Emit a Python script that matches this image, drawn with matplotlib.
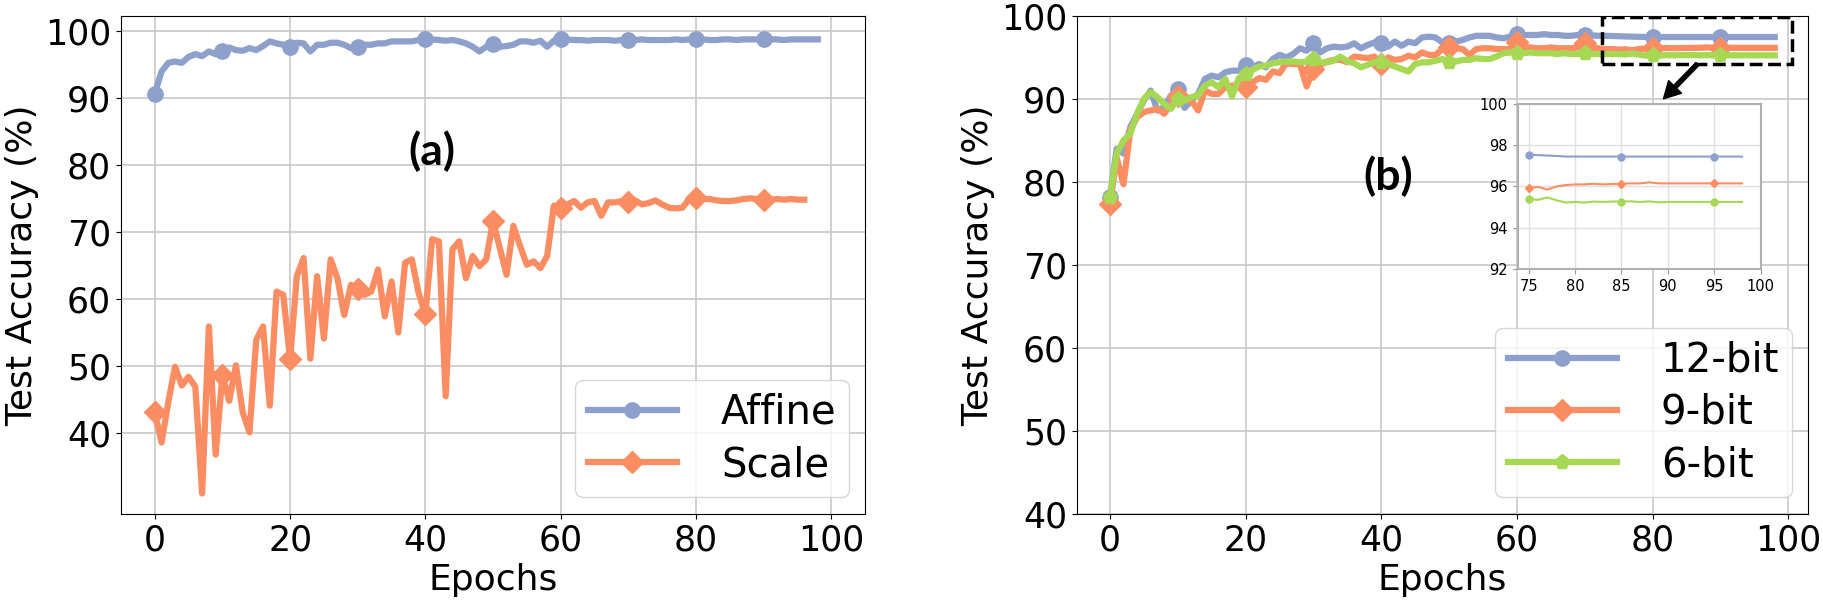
import numpy as np
import matplotlib
matplotlib.use("Agg")
import matplotlib.pyplot as plt
from matplotlib.patches import Rectangle

# ---- data ----
affine = [90.6, 93.9, 95.2, 95.4, 95.2, 96.1, 96.5, 96.2, 96.9, 96.5,
          96.9, 97.5, 97.1, 97.0, 97.4, 97.1, 97.7, 98.4, 98.1, 97.9,
          97.6, 98.2, 98.1, 96.9, 97.9, 97.9, 98.2, 98.2, 97.9, 97.4,
          97.6, 97.9, 97.9, 98.1, 98.1, 98.4, 98.4, 98.4, 98.4, 98.6,
          98.7, 98.7, 98.6, 98.5, 98.6, 98.4, 98.1, 97.6, 96.9, 97.6,
          98.0, 97.6, 97.7, 97.9, 98.4, 98.4, 98.2, 98.5, 97.6, 98.5,
          98.7, 98.7, 98.6, 98.6, 98.5, 98.6, 98.6, 98.6, 98.5, 98.6,
          98.6, 98.6, 98.7, 98.6, 98.6, 98.6, 98.6, 98.7, 98.6, 98.7,
          98.7, 98.7, 98.6, 98.6, 98.7, 98.7, 98.6, 98.7, 98.7, 98.7,
          98.7, 98.7, 98.7, 98.6, 98.7, 98.7, 98.7, 98.7, 98.7]

scale = [43.1, 38.6, 44.6, 49.9, 47.1, 48.4, 46.9, 31.0, 55.9, 36.8,
         48.6, 44.8, 50.1, 43.1, 40.1, 53.9, 55.9, 44.1, 61.1, 60.6,
         51.0, 63.4, 66.1, 51.1, 63.4, 54.1, 65.9, 63.1, 57.6, 62.1,
         61.5, 60.6, 61.1, 64.4, 57.4, 62.6, 55.0, 65.4, 65.9, 60.9,
         57.7, 68.9, 68.6, 45.5, 67.4, 68.6, 63.1, 66.4, 64.9, 65.9,
         71.6, 67.6, 63.6, 70.9, 67.9, 65.1, 65.6, 64.6, 66.4, 73.9,
         73.6, 74.1, 74.6, 73.6, 74.4, 74.6, 72.4, 74.4, 74.4, 74.6,
         74.4, 74.7, 74.1, 74.3, 74.7, 74.1, 73.6, 73.5, 73.6, 74.9,
         75.1, 74.9, 74.9, 74.7, 74.6, 74.6, 74.7, 74.9, 75.0, 74.9,
         74.8, 74.8, 74.9, 74.8, 74.9, 74.8, 74.8]

bit12 = [78.2, 84.0, 83.4, 86.6, 88.2, 89.8, 91.0, 88.6, 89.0, 90.4,
         91.2, 88.9, 89.8, 90.6, 92.4, 92.8, 92.6, 93.2, 93.4, 93.4,
         94.1, 93.8, 94.2, 93.8, 94.8, 95.3, 95.0, 95.4, 96.1, 95.8,
         96.7, 95.6, 96.1, 96.3, 96.2, 96.3, 96.7, 96.1, 96.5, 96.8,
         96.7, 96.3, 96.9, 96.4, 96.9, 96.7, 97.4, 97.5, 97.4, 96.8,
         96.7, 96.9, 97.1, 97.4, 97.6, 97.6, 97.6, 97.4, 97.3, 97.5,
         97.8, 97.7, 97.7, 97.7, 97.8, 97.7, 97.7, 97.6, 97.6, 97.7,
         97.7, 97.65, 97.6, 97.6, 97.58, 97.55, 97.52, 97.5, 97.48, 97.45,
         97.45, 97.45, 97.45, 97.45, 97.45, 97.45, 97.45, 97.45, 97.45, 97.45,
         97.45, 97.45, 97.45, 97.45, 97.45, 97.45, 97.45, 97.45, 97.45]

bit9 = [77.3, 82.9, 79.7, 86.2, 87.8, 88.4, 88.6, 88.8, 88.2, 89.4,
        90.4, 89.8, 89.8, 88.6, 91.0, 90.6, 90.6, 91.4, 91.6, 91.6,
        91.4, 92.0, 92.5, 92.3, 93.3, 93.1, 94.3, 94.2, 94.2, 91.5,
        93.6, 94.1, 94.5, 94.7, 94.7, 94.4, 95.1, 95.0, 94.9, 95.1,
        94.2, 95.0, 94.7, 94.8, 95.2, 95.0, 95.6, 95.3, 95.3, 96.0,
        96.2, 96.1, 96.0, 95.3, 96.0, 96.1, 96.1, 96.0, 96.0, 96.0,
        96.8, 96.2, 96.2, 96.1, 96.1, 96.2, 96.1, 96.1, 96.1, 96.2,
        96.7, 96.1, 96.1, 96.0, 96.0, 95.93, 95.98, 95.85, 96.0, 96.07,
        96.1, 96.1, 96.13, 96.1, 96.12, 96.13, 96.15, 96.15, 96.2, 96.15,
        96.15, 96.15, 96.15, 96.15, 96.15, 96.15, 96.15, 96.15, 96.15]

bit6 = [78.2, 83.4, 85.0, 85.8, 88.2, 90.0, 90.8, 90.2, 89.4, 88.8,
        90.0, 89.8, 90.2, 90.4, 91.6, 92.0, 91.4, 92.4, 90.3, 92.5,
        93.0, 93.5, 93.9, 94.0, 94.3, 94.4, 94.5, 94.5, 94.4, 94.5,
        94.8, 94.4, 94.4, 94.6, 95.1, 94.5, 94.3, 93.8, 94.1, 94.4,
        94.5, 94.2, 93.9, 93.6, 93.3, 94.2, 94.4, 94.4, 94.6, 94.8,
        94.5, 94.5, 94.7, 94.7, 94.9, 94.8, 94.8, 95.1, 95.5, 95.6,
        95.5, 95.5, 95.6, 95.5, 95.5, 95.5, 95.4, 95.5, 95.4, 95.4,
        95.5, 95.4, 95.4, 95.4, 95.4, 95.4, 95.35, 95.47, 95.33, 95.22,
        95.25, 95.22, 95.27, 95.25, 95.27, 95.27, 95.28, 95.25, 95.28, 95.23,
        95.25, 95.25, 95.25, 95.25, 95.25, 95.25, 95.25, 95.25, 95.25]

BLUE = '#8da0cb'
ORANGE = '#fc8d62'
GREEN = '#a6d854'

plt.rcParams['font.family'] = ['DejaVu Sans']

fig = plt.figure(figsize=(18.24, 6), dpi=100)

# ---------------- (a) ----------------
ax1 = fig.add_axes([0.0663, 0.144, 0.408, 0.8295])
ax1.plot(np.arange(len(affine)), affine, color=BLUE, lw=4.5, marker='o',
         markersize=11, markevery=10, label='Affine')
ax1.plot(np.arange(len(scale)), scale, color=ORANGE, lw=4.5, marker='D',
         markersize=11, markevery=10, label='Scale')
ax1.set_xlim(-5, 105)
ax1.set_ylim(28.0, 102.2)
ax1.set_xticks(np.arange(0, 101, 20))
ax1.set_yticks(np.arange(40, 101, 10))
ax1.grid(True, color='#c8c8c8', lw=1.2)
ax1.tick_params(labelsize=25)
ax1.set_xlabel('Epochs', fontsize=26)
ax1.set_ylabel('Test Accuracy (%)', fontsize=26)
ax1.text(41, 82, '(a)', fontsize=32, fontweight='bold', family='Lato',
         ha='center', va='center')
ax1.legend(loc='lower right', fontsize=29, handlelength=2.2,
           handletextpad=1.1, labelspacing=0.3, borderpad=0.31,
           borderaxespad=0.4)

# ---------------- (b) ----------------
ax2 = fig.add_axes([0.5903, 0.144, 0.4009, 0.8295])
ep = np.arange(len(bit12))
ax2.plot(ep, bit12, color=BLUE, lw=4.5, marker='o', markersize=11,
         markevery=10, label='12-bit')
ax2.plot(ep, bit9, color=ORANGE, lw=4.5, marker='D', markersize=11,
         markevery=10, label='9-bit')
ax2.plot(ep, bit6, color=GREEN, lw=4.5, marker='p', markersize=11,
         markevery=10, label='6-bit')
ax2.set_xlim(-4.9, 102.9)
ax2.set_ylim(40, 100)
ax2.set_xticks(np.arange(0, 101, 20))
ax2.set_yticks(np.arange(40, 101, 10))
ax2.grid(True, color='#c8c8c8', lw=1.2)
ax2.tick_params(labelsize=25)
ax2.set_xlabel('Epochs', fontsize=26)
ax2.set_ylabel('Test Accuracy (%)', fontsize=26)
ax2.text(41, 80.7, '(b)', fontsize=32, fontweight='bold', family='Lato',
         ha='center', va='center')
ax2.legend(loc='lower right', fontsize=29, handlelength=2.7,
           handletextpad=1.1, labelspacing=0.3, borderpad=0.31,
           borderaxespad=0.4)

# zoom box + arrow
ax2.add_patch(Rectangle((72.6, 94.2), 28.0, 5.7, fill=False, ec='black',
                        lw=2.5, ls='--', zorder=5))
ax2.annotate('', xy=(81.6, 90.0), xytext=(86.6, 94.2),
             arrowprops=dict(facecolor='black', edgecolor='black', width=3,
                             headwidth=13, headlength=12, shrink=0))

# inset
axin = fig.add_axes([0.832, 0.5517, 0.1332, 0.275])
sl = slice(75, None)
axin.plot(ep[sl], bit12[sl], color=BLUE, lw=1.5, marker='o', markersize=5,
          markevery=10)
axin.plot(ep[sl], bit9[sl], color=ORANGE, lw=1.5, marker='D', markersize=4,
          markevery=10)
axin.plot(ep[sl], bit6[sl], color=GREEN, lw=1.5, marker='o', markersize=5,
          markevery=10)
axin.set_xlim(73.8, 100)
axin.set_ylim(92, 100)
axin.set_xticks(np.arange(75, 101, 5))
axin.set_yticks(np.arange(92, 101, 2))
axin.grid(True, color='#e0e0e0', lw=1)
axin.tick_params(labelsize=10.5, color='#999999')
for s in axin.spines.values():
    s.set_color('#b0b0b0')
    s.set_linewidth(1.5)

fig.savefig('out.png', dpi=100)
